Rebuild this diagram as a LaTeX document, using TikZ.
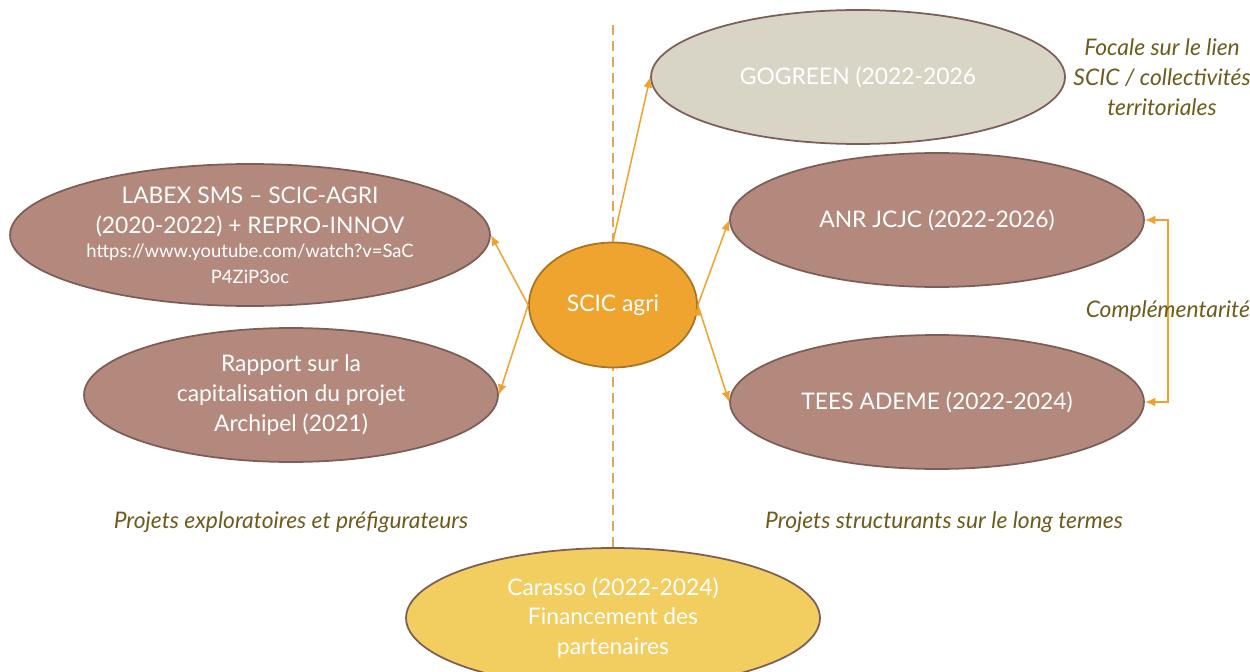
\documentclass[tikz,border=0pt]{standalone}
\usepackage{fontspec}
\setmainfont{Lato}
\usetikzlibrary{shapes.geometric, arrows.meta, positioning}

\definecolor{projbrun}{HTML}{B3897D}
\definecolor{bordbrun}{HTML}{7D5E57}
\definecolor{gogris}{HTML}{D9D5C6}
\definecolor{scicorange}{HTML}{EFA430}
\definecolor{scicbord}{HTML}{A8741F}
\definecolor{carjaune}{HTML}{F2CD5F}
\definecolor{fleche}{HTML}{F0A12E}
\definecolor{olive}{HTML}{6E5A1A}
\definecolor{tirets}{HTML}{E3A55A}

\begin{document}
\begin{tikzpicture}[x=0.02cm, y=-0.02cm,
    projet/.style={ellipse, draw=bordbrun, line width=1pt, fill=projbrun, text=white,
        minimum width=8.28cm, minimum height=2.68cm, inner sep=0pt, align=center,
        font=\fontsize{13}{17}\selectfont},
    note/.style={text=olive, align=center, font=\itshape\fontsize{13}{17}\selectfont},
    lien/.style={-{Latex[length=6pt, width=5pt]}, color=fleche, line width=0.85pt}]
        \useasboundingbox (0,0) rectangle (1250,672);

        \coordinate (haut) at (613,25);
        \coordinate (bas)  at (613,550);
        \draw[tirets, line width=1.1pt, dash pattern=on 5.7pt off 3.4pt] (haut) -- (bas);

        \node[projet, fill=gogris]       (gogreen) at (858,77)  {GOGREEN (2022-2026};
        \node[projet, minimum width=9.6cm, minimum height=2.84cm, inner ysep=-8pt]
                                          (labex)   at (250,235) {LABEX SMS -- SCIC-AGRI\\(2020-2022) + REPRO-INNOV\\[-3pt]
                                          {\fontsize{10.5}{12.5}\selectfont https://www.youtube.com/watch?v=SaC}\\[-2.5pt]
                                          {\fontsize{10.5}{12.5}\selectfont P4ZiP3oc}};
        \node[projet]                    (rapport) at (291,395) {Rapport sur la\\capitalisation du projet\\Archipel (2021)};
        \node[projet]                    (anr)     at (937,220) {ANR JCJC (2022-2026)};
        \node[projet]                    (tees)    at (937,402) {TEES ADEME (2022-2024)};
        \node[projet, fill=carjaune, minimum height=2.8cm]
                                          (carasso) at (613,618) {Carasso (2022-2024)\\Financement des\\partenaires};
        \node[projet, draw=scicbord, fill=scicorange, minimum width=3.36cm, minimum height=2.5cm]
                                          (scic)    at (613,305) {SCIC agri};

        \node[note] (focale) at (1162,77)  {Focale sur le lien\\SCIC / collectivités\\territoriales};
        \node[note] (explo)  at (291,522)  {Projets exploratoires et préfigurateurs};
        \node[note] (struct) at (944,522)  {Projets structurants sur le long termes};

        \draw[lien]
            (scic.north) edge (gogreen.west)
            (scic.west)  edge (labex.east)
            (scic.west)  edge (rapport.east)
            (scic.east)  edge (anr.west)
            (scic.east)  edge (tees.west)
            ;
        \draw[lien, {Latex[length=6pt, width=5pt]}-{Latex[length=6pt, width=5pt]}]
            (anr.east) -- ++(23,0) |- node[note, pos=0.25] (compl) {Complémentarité} (tees.east);
\end{tikzpicture}
\end{document}
